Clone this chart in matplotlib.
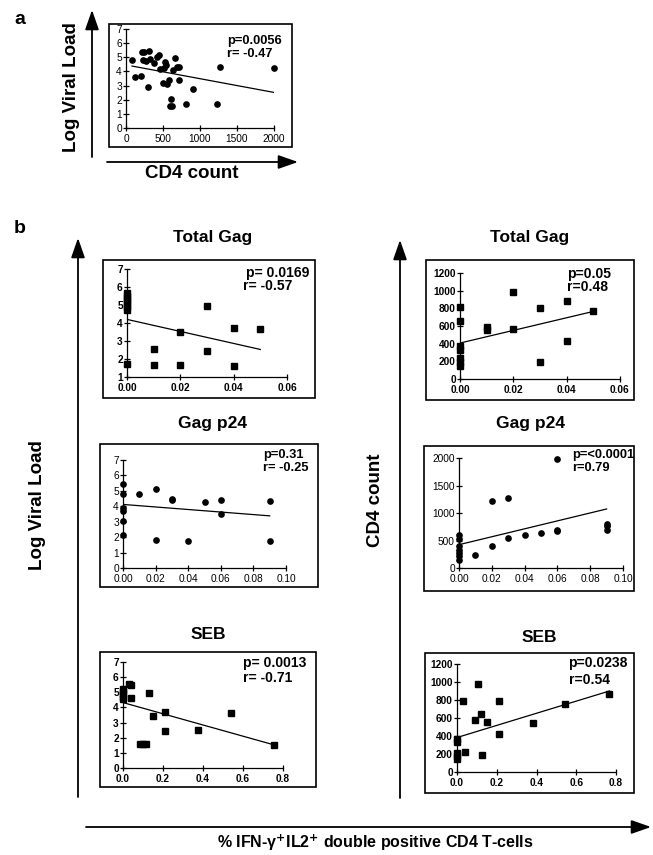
import matplotlib.pyplot as plt
from matplotlib.patches import Rectangle

plt.rcParams['font.family'] = ['Liberation Sans', 'DejaVu Sans']

W, H = 653, 855

# panel a: CD4 count vs log viral load
a_cd4 = [81, 126, 202, 220, 225, 247, 270, 297, 315, 328, 382, 413, 445, 458, 503, 512, 530,
         539, 557, 584, 598, 611, 620, 638, 661, 683, 719, 719, 899, 809, 1231, 1276, 1995]
a_vl = [4.79, 3.6, 3.7, 5.35, 4.79, 5.35, 4.72, 2.9, 5.42, 4.9, 4.6, 5.02, 5.17, 4.17, 3.18, 4.22, 4.65,
        4.46, 3.11, 3.42, 1.58, 2.05, 1.58, 4.13, 4.93, 4.32, 4.32, 3.37, 2.76, 1.67, 1.67, 4.29, 4.22]
a_fit_x = [81, 1995]
a_fit_y = [4.38, 2.52]

# panel b, Total Gag
tg_pct_vl = [0, 0, 0, 0, 0, 0, 0, 0, 0.01, 0.01, 0.02, 0.02, 0.03, 0.03, 0.04, 0.04, 0.05]
tg_vl = [5.65, 5.5, 5.35, 5.2, 5.05, 4.9, 4.7, 1.7, 1.65, 2.55, 1.65, 3.5, 4.93, 2.46, 3.72, 1.62, 3.68]
tg_vl_fit = ([0, 0.05], [4.2, 2.53])
tg_pct_cd4 = [0, 0, 0, 0, 0, 0, 0, 0.01, 0.01, 0.02, 0.02, 0.03, 0.03, 0.04, 0.04, 0.05]
tg_cd4 = [810, 660, 377, 332, 237, 188, 150, 588, 558, 980, 565, 803, 188, 882, 426, 765]
tg_cd4_fit = ([0, 0.05], [407, 765])

# panel b, Gag p24
p24_pct_vl = [0, 0, 0, 0, 0, 0, 0.01, 0.02, 0.02, 0.03, 0.03, 0.04, 0.05, 0.06, 0.06, 0.09, 0.09]
p24_vl = [5.45, 4.77, 3.86, 3.71, 3.06, 2.17, 4.79, 5.1, 1.84, 4.49, 4.38, 1.74, 4.25, 4.4, 3.47, 4.34, 1.74]
p24_vl_fit = ([0, 0.09], [4.12, 3.38])
p24_pct_cd4 = [0, 0, 0, 0, 0, 0, 0, 0.01, 0.02, 0.02, 0.03, 0.03, 0.04, 0.05, 0.06, 0.06, 0.06,
               0.09, 0.09, 0.09]
p24_cd4 = [606, 527, 406, 333, 273, 212, 152, 242, 1224, 406, 1266, 545, 606, 636, 1980, 697, 667,
           806, 757, 697]
p24_cd4_fit = ([0, 0.09], [424, 1073])

# panel b, SEB
seb_pct_vl = [0, 0, 0, 0, 0, 0.032, 0.042, 0.04, 0.083, 0.1, 0.117, 0.13, 0.148, 0.208, 0.208,
              0.377, 0.54, 0.757]
seb_vl = [5.24, 5.09, 4.91, 4.69, 4.58, 5.57, 5.51, 4.63, 1.61, 1.61, 1.61, 4.96, 3.46, 3.72, 2.44,
          2.49, 3.63, 1.52]
seb_vl_fit = ([0, 0.757], [4.32, 1.52])
seb_pct_cd4 = [0, 0, 0, 0, 0, 0.03, 0.038, 0.092, 0.104, 0.12, 0.127, 0.15, 0.211, 0.211, 0.38,
               0.544, 0.767]
seb_cd4 = [372, 335, 212, 175, 149, 792, 223, 576, 974, 650, 186, 558, 792, 420, 546, 755, 866]
seb_cd4_fit = ([0, 0.767], [383, 900])

fig = plt.figure(figsize=(W / 100, H / 100), dpi=100)

# overlay in pixel coordinates for frames, arrows and labels
ov = fig.add_axes([0, 0, 1, 1], zorder=-1)
ov.set_xlim(0, W)
ov.set_ylim(H, 0)
ov.axis('off')


def arrow(x0, y0, x1, y1):
    ov.annotate('', xy=(x1, y1), xytext=(x0, y0),
                arrowprops=dict(arrowstyle='-|>,head_length=1.0,head_width=0.35',
                                mutation_scale=12, lw=1.3, color='black', shrinkA=0, shrinkB=0))


def panel(rect, box, x, y, fit, xlim, ylim, xticks, yticks, xfmt, marker, stats, title=None,
          bold=True, stat_size=10):
    x0, y0, x1, y1 = rect
    ax = fig.add_axes([x0 / W, 1 - y1 / H, (x1 - x0) / W, (y1 - y0) / H])
    ax.plot(x, y, linestyle='none', marker=marker, ms=3.8, color='black', clip_on=False)
    ax.plot(fit[0], fit[1], color='black', lw=0.9)
    ax.set_xlim(*xlim)
    ax.set_ylim(*ylim)
    ax.set_xticks(xticks)
    ax.set_xticklabels([xfmt.format(t) for t in xticks])
    ax.set_yticks(yticks)
    for s in ['top', 'right']:
        ax.spines[s].set_visible(False)
    for s in ['left', 'bottom']:
        ax.spines[s].set_linewidth(0.9)
    ax.tick_params(direction='inout', length=4, width=0.9, pad=1, labelsize=7.3)
    ax.tick_params(axis='x', pad=2.5)
    ax.patch.set_alpha(0)
    for lab in ax.get_xticklabels() + ax.get_yticklabels():
        lab.set_fontweight('bold' if bold else 'normal')
    bx0, by0, bx1, by1 = box
    ov.add_patch(Rectangle((bx0, by0), bx1 - bx0, by1 - by0, fill=False, lw=1.2, color='black'))
    for (tx, ty, s) in stats:
        ov.text(tx, ty, s, fontsize=stat_size, fontweight='bold', va='center', ha='left')
    if title:
        ov.text(title[0], title[1], title[2], fontsize=12.5, fontweight='bold', ha='center', va='center')


# panel a
panel((126, 29, 274, 128), (109, 24, 292, 147), a_cd4, a_vl, (a_fit_x, a_fit_y), (0, 2000), (0, 7),
      [0, 500, 1000, 1500, 2000], range(0, 8), '{:.0f}', 'o',
      [(227, 41, 'p=0.0056'), (227, 54, 'r= -0.47')], bold=False, stat_size=9.3)
ov.text(20, 19, 'a', fontsize=14, fontweight='bold', ha='center', va='center')
arrow(92, 157, 92, 10)
arrow(107, 162, 298, 162)
ov.text(72, 87, 'Log Viral Load', fontsize=13.5, fontweight='bold', rotation=90, ha='center', va='center')
ov.text(192, 174, 'CD4 count', fontsize=13.5, fontweight='bold', ha='center', va='center')

# panel b
ov.text(20, 228, 'b', fontsize=14, fontweight='bold', ha='center', va='center')
panel((127, 269, 287, 377), (103, 260, 315, 398), tg_pct_vl, tg_vl, tg_vl_fit, (0, 0.06), (1, 7),
      [0, 0.02, 0.04, 0.06], range(1, 8), '{:.2f}', 's',
      [(246, 273, 'p= 0.0169'), (243, 286, 'r= -0.57')], (213, 237, 'Total Gag'))
panel((460, 273, 620, 379), (426, 260, 634, 400), tg_pct_cd4, tg_cd4, tg_cd4_fit, (0, 0.06), (0, 1200),
      [0, 0.02, 0.04, 0.06], range(0, 1201, 200), '{:.2f}', 's',
      [(567, 274, 'p=0.05'), (567, 287, 'r=0.48')], (530, 237, 'Total Gag'))
panel((123, 460, 286, 568), (100, 444, 318, 587), p24_pct_vl, p24_vl, p24_vl_fit, (0, 0.10), (0, 7),
      [0, 0.02, 0.04, 0.06, 0.08, 0.10], range(0, 8), '{:.2f}', 'o',
      [(263, 455, 'p=0.31'), (263, 468, 'r= -0.25')], (213, 423, 'Gag p24'), bold=False, stat_size=9.3)
panel((459, 458, 623, 568), (424, 446, 634, 591), p24_pct_cd4, p24_cd4, p24_cd4_fit, (0, 0.10), (0, 2000),
      [0, 0.02, 0.04, 0.06, 0.08, 0.10], range(0, 2001, 500), '{:.2f}', 'o',
      [(572, 455, 'p=<0.0001'), (572, 468, 'r=0.79')], (530, 423, 'Gag p24'), bold=False, stat_size=9.3)
panel((123, 662, 283, 768), (100, 652, 316, 787), seb_pct_vl, seb_vl, seb_vl_fit, (0, 0.8), (0, 7),
      [0, 0.2, 0.4, 0.6, 0.8], range(0, 8), '{:.1f}', 's',
      [(243, 663, 'p= 0.0013'), (243, 678, 'r= -0.71')], (208, 634, 'SEB'))
panel((457, 664, 616, 772), (425, 653, 634, 793), seb_pct_cd4, seb_cd4, seb_cd4_fit, (0, 0.8), (0, 1200),
      [0, 0.2, 0.4, 0.6, 0.8], range(0, 1201, 200), '{:.1f}', 's',
      [(568, 663, 'p=0.0238'), (569, 680, 'r=0.54')], (539, 637, 'SEB'))

arrow(78, 797, 78, 238)
arrow(400, 798, 400, 240)
arrow(86, 827, 651, 827)
ov.text(37, 505, 'Log Viral Load', fontsize=13.5, fontweight='bold', rotation=90, ha='center', va='center')
ov.text(375, 500, 'CD4 count', fontsize=13.5, fontweight='bold', rotation=90, ha='center', va='center')
ov.text(375, 843, r'% IFN-γ$^{\mathbf{+}}$IL2$^{\mathbf{+}}$ double positive CD4 T-cells',
        fontsize=11.5, fontweight='bold', ha='center', va='center')

fig.savefig('out.png', dpi=100)
